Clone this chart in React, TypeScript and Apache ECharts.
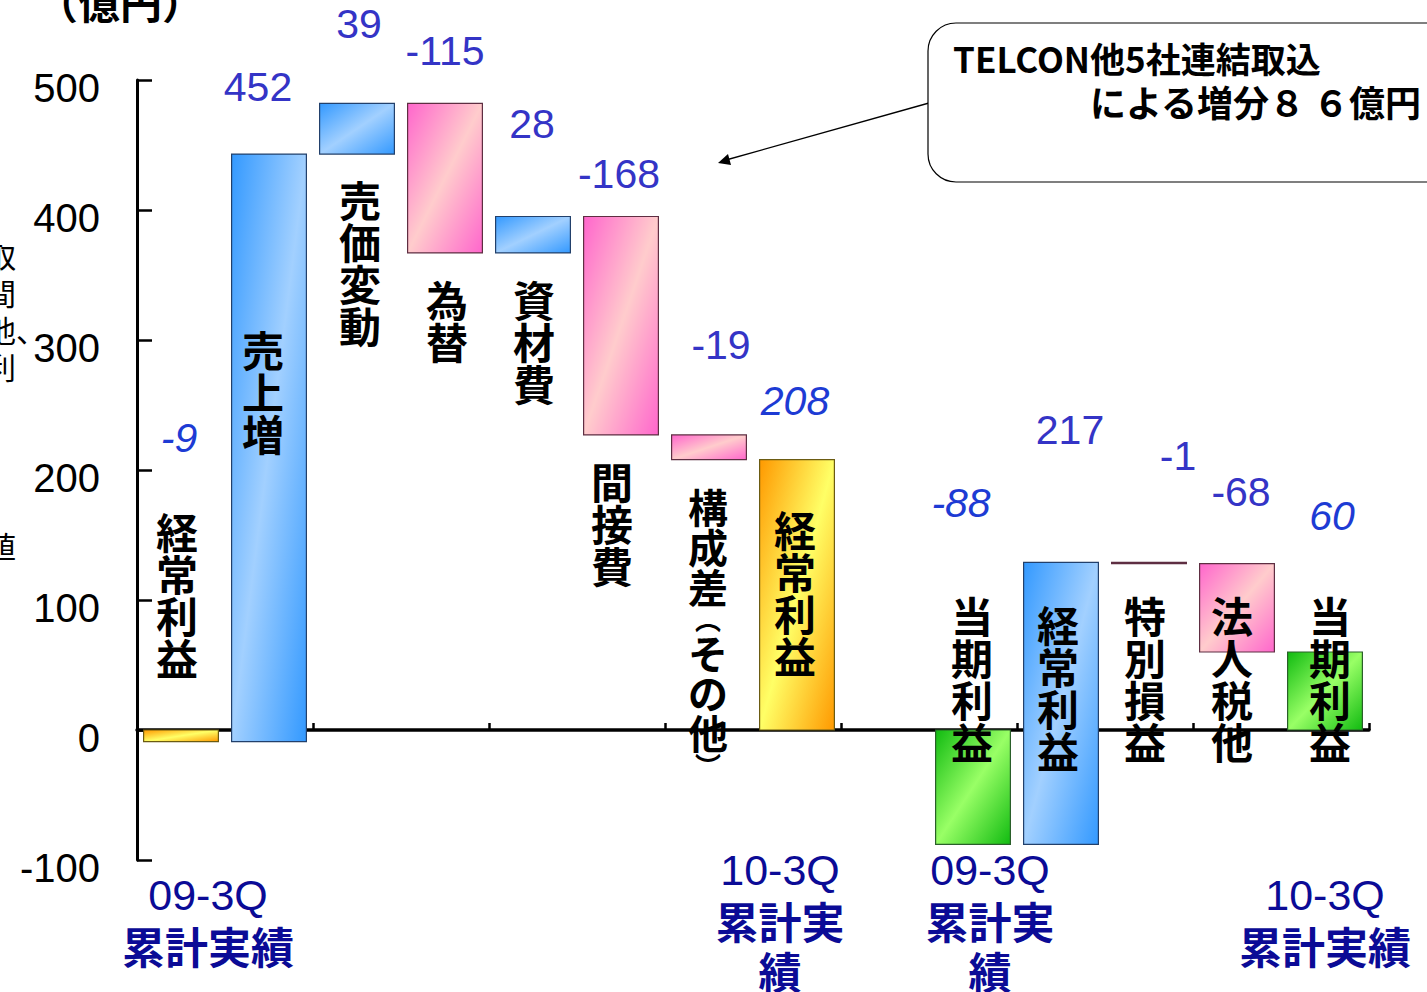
import React, { useEffect, useRef } from 'react';
import * as echarts from 'echarts';

// ---------- data ----------
const categories = [
  '経常利益', '売上増', '売価変動', '為替', '資材費', '間接費', '構成差（その他）',
  '経常利益', '', '当期利益', '経常利益', '特別損益', '法人税他', '当期利益',
];
const changes: (number | null)[] = [-9, 452, 39, -115, 28, -168, -19, 208, null, -88, 217, -1, -68, 60];
const isTotal = [true, false, false, false, false, false, false, true, false, true, false, false, false, true];
const barKind = ['ordinary', 'up', 'up', 'down', 'up', 'down', 'down', 'ordinary', '', 'net', 'up', 'down', 'down', 'net'];
const yTickValues = [-100, 0, 100, 200, 300, 400, 500];
const periodLabels = [
  ['09-3Q', '累計実績'],
  ['10-3Q', '累計実', '績'],
  ['09-3Q', '累計実', '績'],
  ['10-3Q', '累計実績'],
];
const noteLines = ['TELCON他5社連結取込', 'による増分８ ６億円'];

// ---------- layout (label anchors, in axis units / px offsets) ----------
const valueLabelAt = [225, 495, 543, 522, 466, 428, 296, 253, null, 175, 231, 211, 183, 165];
const valueLabelDx = [-2, -11, 2, 0, -1, -2, 12, -2, 0, -12, 9, 29, 4, 7];
const nameTopAt = [170, 310, 425, 348, 348, 208, 188, 171, null, 105, 98, 105, 105, 105];
const nameDx = [-4, -6, 3, 2, 1, -9, -1, -2, 0, -1, -3, -4, -5, 5];
const periodLayout = [
  { x: 208, y: 895 },
  { x: 780, y: 870 },
  { x: 990, y: 870 },
  { x: 1325, y: 895 },
];

const palette: Record<string, { dark: string; light: string; border: string }> = {
  ordinary: { dark: '#FF9900', light: '#FFFF66', border: '#6B5B12' },
  up: { dark: '#3399FF', light: '#A2D0FF', border: '#22406B' },
  down: { dark: '#FF66CC', light: '#FFCCCC', border: '#5E2E42' },
  net: { dark: '#11BB11', light: '#99FF66', border: '#2A5F2A' },
};

const NUM_FONT = '"Liberation Sans", Arial, Helvetica, sans-serif';
const CJK_FONT = '"Noto Sans CJK JP", "Noto Sans CJK SC", sans-serif';

// build floating bars
type Item = { i: number; lo: number; hi: number };
const items: Item[] = [];
{
  let running = 0;
  changes.forEach((v, i) => {
    if (v === null) return;
    if (isTotal[i]) {
      items.push({ i, lo: 0, hi: v });
      running = v;
    } else {
      items.push({ i, lo: running, hi: running + v });
      running += v;
    }
  });
}

function verticalRich(name: string) {
  const hasParen = name.indexOf('（') >= 0;
  const n = hasParen ? 'm' : 'n';
  return Array.from(name)
    .map((c) => (c === '（' ? '{p|︵}' : c === '）' ? '{p|︶}' : '{' + n + '|' + c + '}'))
    .join('\n');
}

export default function App() {
  const ref = useRef<HTMLDivElement>(null);
  useEffect(() => {
    if (!ref.current) return;
    const chart = echarts.init(ref.current, undefined, { renderer: 'svg' });

    const graphics: any[] = [];
    graphics.push({
      type: 'text', x: 120, y: 0,
      style: { text: '（億円）', fontFamily: CJK_FONT, fontWeight: 'bold', fontSize: 42, fill: '#000', align: 'center', verticalAlign: 'middle' },
    });
    graphics.push({
      type: 'text', x: -14, y: 236,
      style: { text: '取\n間\n他、\n利', fontFamily: CJK_FONT, fontSize: 30, lineHeight: 37, fill: '#000', align: 'left', verticalAlign: 'top' },
    });
    graphics.push({
      type: 'text', x: -14, y: 530,
      style: { text: '値', fontFamily: CJK_FONT, fontSize: 30, fill: '#000', align: 'left', verticalAlign: 'top' },
    });
    // annotation
    graphics.push({
      type: 'line', shape: { x1: 929, y1: 103, x2: 726, y2: 160 },
      style: { stroke: '#000', lineWidth: 1.3 },
    });
    graphics.push({
      type: 'polygon', shape: { points: [[718, 163], [731, 165], [728, 154]] },
      style: { fill: '#000' },
    });
    graphics.push({
      type: 'rect', shape: { x: 928, y: 23, width: 560, height: 159, r: 28 },
      style: { fill: '#fff', stroke: '#000', lineWidth: 1.2 },
    });
    graphics.push({
      type: 'text', x: 953, y: 57,
      style: { text: noteLines[0], fontFamily: CJK_FONT, fontWeight: 'bold', fontSize: 35, fill: '#000', align: 'left', verticalAlign: 'middle' },
    });
    graphics.push({
      type: 'text', x: 1090, y: 101,
      style: { text: noteLines[1], fontFamily: CJK_FONT, fontWeight: 'bold', fontSize: 36, fill: '#000', align: 'left', verticalAlign: 'middle' },
    });
    // period labels under the chart
    periodLabels.forEach((lines, k) => {
      lines.forEach((t, j) => {
        graphics.push({
          type: 'text', x: periodLayout[k].x, y: periodLayout[k].y + j * 50,
          style: {
            text: t,
            fontFamily: j === 0 ? NUM_FONT : CJK_FONT,
            fontWeight: j === 0 ? 'normal' : 'bold',
            fontSize: 43,
            fill: '#0B0B96', align: 'center', verticalAlign: 'middle',
          },
        });
      });
    });

    chart.setOption({
      animation: false,
      grid: { left: 137, right: 58, top: 80, bottom: 132, containLabel: false },
      xAxis: {
        type: 'category',
        data: categories,
        axisLine: { show: true, onZero: true, lineStyle: { color: '#000', width: 3.5 } },
        axisTick: { show: true, inside: true, length: 7, lineStyle: { color: '#000', width: 2.5 } },
        axisLabel: { show: false },
        splitLine: { show: false },
      },
      yAxis: {
        type: 'value',
        min: yTickValues[0],
        max: yTickValues[yTickValues.length - 1],
        interval: yTickValues[1] - yTickValues[0],
        axisLine: { show: true, lineStyle: { color: '#000', width: 3 } },
        axisTick: { show: true, inside: true, length: 15, lineStyle: { color: '#000', width: 2.5 } },
        axisLabel: {
          color: '#000', fontSize: 40, fontFamily: NUM_FONT, margin: 37,
          verticalAlign: 'top', lineHeight: 16,
        },
        splitLine: { show: false },
      },
      graphic: graphics,
      series: [
        {
          type: 'custom',
          clip: false,
          encode: { x: 0, y: [1, 2] },
          data: items.map((d) => [d.i, d.lo, d.hi]),
          renderItem: (params: any, api: any) => {
            const it = items[params.dataIndex];
            const cat = api.value(0);
            const lo = api.value(1);
            const hi = api.value(2);
            const pHi = api.coord([cat, hi]);
            const pLo = api.coord([cat, lo]);
            const bw = api.size([1, 0])[0] * 0.85;
            const cx = pHi[0];
            const top = Math.min(pHi[1], pLo[1]);
            const h = Math.max(Math.abs(pLo[1] - pHi[1]), 1);
            const pal = palette[barKind[it.i]];
            const v = changes[it.i] as number;
            const total = isTotal[it.i];
            const vy = api.coord([cat, valueLabelAt[it.i]])[1];
            const ny = api.coord([cat, nameTopAt[it.i]])[1];
            return {
              type: 'group',
              children: [
                {
                  type: 'rect',
                  shape: { x: cx - bw / 2, y: top, width: bw, height: h },
                  style: {
                    fill: new echarts.graphic.LinearGradient(0, 0, 1, 1, [
                      { offset: 0, color: pal.dark },
                      { offset: 0.5, color: pal.light },
                      { offset: 1, color: pal.dark },
                    ]),
                    stroke: pal.border,
                    lineWidth: 1.2,
                  },
                },
                {
                  type: 'text',
                  x: cx + valueLabelDx[it.i],
                  y: vy,
                  style: {
                    text: String(v),
                    fontFamily: NUM_FONT,
                    fontSize: 41,
                    fontStyle: total ? 'italic' : 'normal',
                    fill: total ? '#1D3BD4' : '#3434C6',
                    align: 'center',
                    verticalAlign: 'middle',
                  },
                },
                {
                  type: 'text',
                  x: cx + nameDx[it.i],
                  y: ny,
                  style: {
                    text: verticalRich(categories[it.i]),
                    fill: '#000',
                    align: 'center',
                    verticalAlign: 'top',
                    rich: {
                      n: { fontFamily: CJK_FONT, fontWeight: 'bold', fontSize: 42, lineHeight: 42, fill: '#000', align: 'center' },
                      m: { fontFamily: CJK_FONT, fontWeight: 'bold', fontSize: 40, lineHeight: 40, fill: '#000', align: 'center' },
                      p: { fontFamily: CJK_FONT, fontWeight: 'bold', fontSize: 26, lineHeight: 26, fill: '#000', align: 'center' },
                    },
                  },
                },
              ],
            };
          },
        },
      ],
    });
    return () => chart.dispose();
  }, []);
  return (
    <div
      ref={ref}
      style={{ position: 'absolute', left: 0, top: 0, width: 1427, height: 992, background: '#fff' }}
    />
  );
}
